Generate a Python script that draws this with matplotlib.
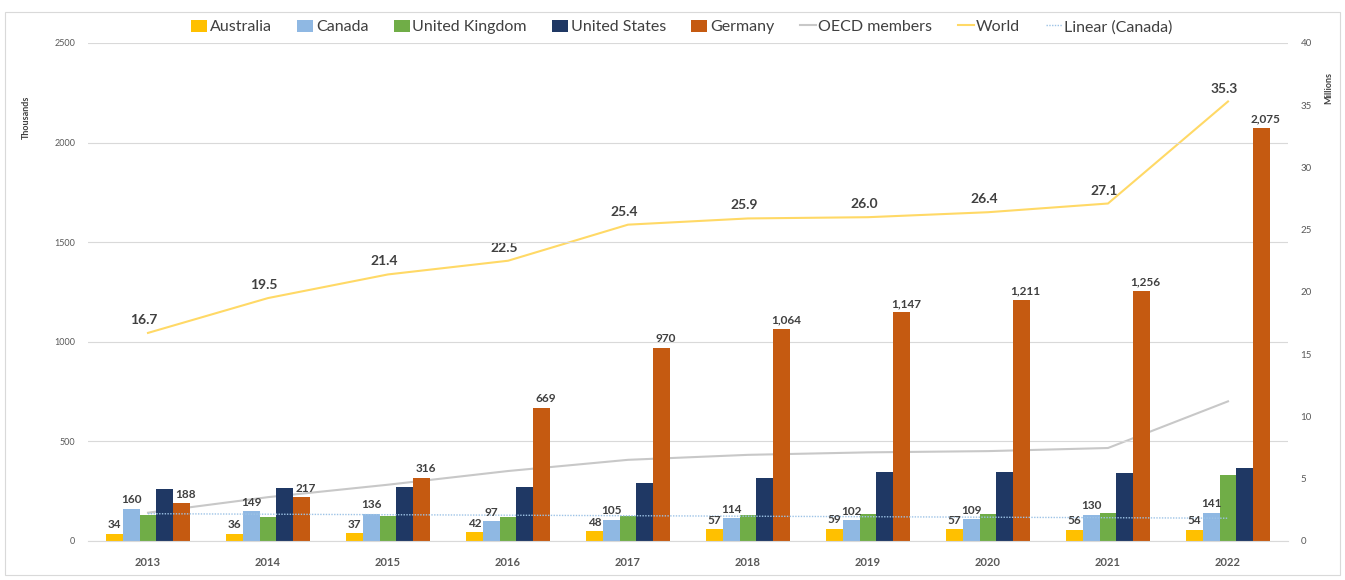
import numpy as np
import matplotlib
matplotlib.use("Agg")
import matplotlib.pyplot as plt
from matplotlib.patches import Rectangle

plt.rcParams['font.family'] = ['Lato', 'DejaVu Sans']

years = ['2013', '2014', '2015', '2016', '2017', '2018', '2019', '2020', '2021', '2022']
australia = [34, 36, 37, 42, 48, 57, 59, 57, 56, 54]
canada = [160, 149, 136, 97, 105, 114, 102, 109, 130, 141]
united_kingdom = [127, 119, 124, 120, 124, 127, 134, 134, 140, 328]
united_states = [260, 264, 269, 268, 288, 313, 344, 344, 339, 363]
germany = [188, 217, 316, 669, 970, 1064, 1147, 1211, 1256, 2075]
oecd_members = [2.25, 3.5, 4.5, 5.6, 6.5, 6.9, 7.1, 7.2, 7.45, 11.2]
world = [16.7, 19.5, 21.4, 22.5, 25.4, 25.9, 26.0, 26.4, 27.1, 35.3]

bar_names = ['Australia', 'Canada', 'United Kingdom', 'United States', 'Germany']
bar_data = [australia, canada, united_kingdom, united_states, germany]
bar_colors = ['#FFC000', '#8FB8E3', '#70AD47', '#1F3864', '#C55A11']
labelled = {'Australia', 'Canada', 'Germany'}

W, H = 1345, 580
fig = plt.figure(figsize=(W / 100, H / 100), dpi=100)
fig.patches.append(Rectangle((5 / W, 5 / H), 1335 / W, (575 - 12) / H, transform=fig.transFigure,
                             fill=False, edgecolor='#D9D9D9', linewidth=0.8))

ax = fig.add_axes([88 / W, 1 - 540.7 / H, 1200 / W, (540.7 - 43) / H])
ax2 = ax.twinx()

x = np.arange(len(years))
bw = 0.14
txtc = '#404040'
handles = []
for i, (name, vals, col) in enumerate(zip(bar_names, bar_data, bar_colors)):
    pos = x + (i - 2) * bw
    b = ax.bar(pos, vals, bw, color=col, label=name, zorder=2)
    handles.append(b)
    if name in labelled:
        dx = 3 if name == 'Germany' else 0
        for xp, v in zip(pos, vals):
            ax.annotate(f'{v:,}', (xp, v), xytext=(dx, 2.5), textcoords='offset points',
                        ha='center', va='bottom', fontsize=8.5, fontweight='bold', color=txtc, zorder=5)

ax.set_xlim(-0.5, len(years) - 0.5)
ax.set_ylim(0, 2500)
ax.set_yticks(range(0, 2501, 500))
ax.yaxis.grid(True, color='#D9D9D9', linewidth=0.8, zorder=0)
ax.set_axisbelow(True)
for s in ['top', 'right', 'left']:
    ax.spines[s].set_visible(False)
ax.spines['bottom'].set_color('#D9D9D9')
ax.set_xticks(x)
ax.set_xticklabels(years, fontsize=8, fontweight='bold', color='#595959')
ax.tick_params(axis='x', length=0, pad=12)
ax.tick_params(axis='y', length=0, pad=9, labelsize=6.5, labelcolor='#595959')
ax.set_ylabel('Thousands', fontsize=6.5, fontweight='bold', color='#404040')
ax.yaxis.set_label_coords(-0.048, 0.85)

# trendline of Canada (linear fit)
coef = np.polyfit(x, canada, 1)
trend = np.polyval(coef, x)
lt, = ax.plot(x, trend, color='#9DC3E6', linestyle=(0, (1, 1)), linewidth=1.0, zorder=3, label='Linear (Canada)')

l1, = ax2.plot(x, oecd_members, color='#C8C8C8', linewidth=1.5, label='OECD members', zorder=3)
l2, = ax2.plot(x, world, color='#FFD966', linewidth=1.5, label='World', zorder=3)
for xp, v in zip(x, world):
    ax2.annotate(f'{v:.1f}', (xp, v), xytext=(-3, 5), textcoords='offset points',
                 ha='center', va='bottom', fontsize=10, fontweight='bold', color=txtc)
ax2.set_ylim(0, 40)
ax2.set_yticks(range(0, 41, 5))
for s in ['top', 'right', 'left', 'bottom']:
    ax2.spines[s].set_visible(False)
ax2.tick_params(axis='y', length=0, pad=9, labelsize=7, labelcolor='#595959')
ax2.set_ylabel('Millions', fontsize=6.5, fontweight='bold', color='#404040')
ax2.yaxis.set_label_coords(1.03, 0.91)

ax.set_zorder(ax2.get_zorder() + 1)
ax.patch.set_visible(False)

all_handles = handles + [l1, l2, lt]
all_labels = bar_names + ['OECD members', 'World', 'Linear (Canada)']
fig.legend(all_handles, all_labels, loc='center', bbox_to_anchor=(0.507, 1 - 27 / H), ncol=8,
           frameon=False, fontsize=11.5, handlelength=1.0, handleheight=0.8, handletextpad=0.15,
           columnspacing=1.6, labelcolor='#404040')

fig.savefig('out.png', dpi=100)
